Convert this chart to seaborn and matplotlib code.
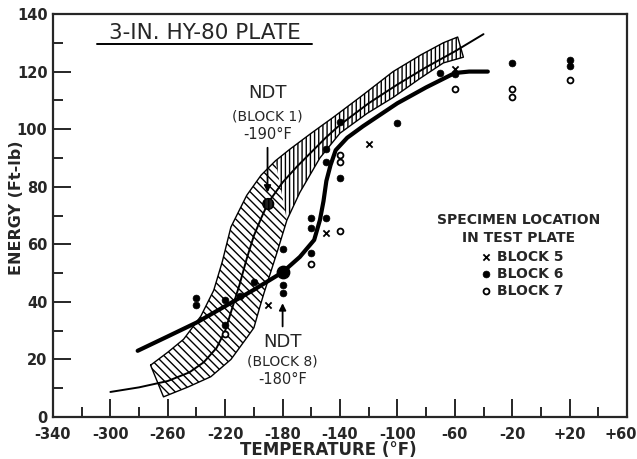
import matplotlib
matplotlib.use("Agg")
import matplotlib.pyplot as plt
import matplotlib.transforms as mtransforms
import seaborn as sns
from matplotlib.ticker import FixedLocator, MultipleLocator
from matplotlib.lines import Line2D

# ---------------- data ----------------
block5_T = [-190, -150, -120, -60]
block5_E = [39, 64, 95, 121]

block6_T = [-240, -240, -220, -220, -210, -200, -180, -180, -180, -160, -160, -160,
            -150, -150, -150, -140, -140, -100, -70, -60, -20, 20, 20]
block6_E = [39, 41.5, 40.5, 32, 42, 47, 58.5, 46, 43, 69, 65.5, 57,
            69, 93, 88.5, 83, 102.5, 102, 119.5, 119, 123, 124, 122]

block7_T = [-220, -160, -140, -140, -140, -60, -20, -20, 20]
block7_E = [29, 53, 64.5, 88.5, 91, 114, 114, 111, 117]

ndt_T = [-190, -180]
ndt_E = [74, 50.3]

thin_T = [-300, -280, -260, -245, -235, -226, -220, -215, -210, -205, -200, -195,
          -190, -180, -170, -160, -150, -140, -120, -100, -80, -60, -40]
thin_E = [8.7, 10.3, 12.5, 15.5, 19, 24, 30, 38, 46, 55, 63, 69,
          74.5, 81.5, 87, 92, 97, 101.5, 109, 115.5, 121.5, 127, 133]

thick_T = [-281, -260, -240, -220, -200, -180, -168, -158, -154, -151.5, -149.5,
           -146.6, -143, -135, -124, -100, -80, -60, -50, -37]
thick_E = [23, 28, 32.8, 38.5, 44.2, 50.3, 55.6, 61.5, 68.4, 75, 82,
           87.5, 92.7, 97, 101, 109, 114.5, 119.5, 120, 120]

band_up_T = [-272, -260, -249, -237, -228, -222, -216, -205, -195, -185, -175, -160,
             -145, -125, -103, -84, -68, -58]
band_up_E = [18, 22.5, 27, 35, 44, 54, 66, 77, 84, 89, 93, 98.6,
             104, 111.5, 120, 125.7, 130, 132]
band_lo_T = [-263, -246, -230, -216, -205, -200, -196, -193, -184, -177, -168, -154,
             -140, -121, -103, -84, -68, -54]
band_lo_E = [7, 10.4, 14, 20, 27.5, 31, 38, 43, 57, 68.4, 78, 90,
             98.6, 105.5, 111, 117.7, 123, 125]

x_ticks = [-340, -300, -260, -220, -180, -140, -100, -60, -20, 20, 60]
x_labels = ["-340", "-300", "-260", "-220", "-180", "-140", "-100", "-60", "-20", "+20", "+60"]
y_ticks = [0, 20, 40, 60, 80, 100, 120, 140]
y_labels = ["0", "20", "40", "60", "80", "100", "120", "140"]

# ---------------- figure ----------------
sns.set_style("ticks")
plt.rcParams["font.family"] = ["DejaVu Sans"]
plt.rcParams["hatch.linewidth"] = 1.0

fig = plt.figure(figsize=(6.37, 4.59), dpi=100)
ax = fig.add_axes([53 / 637, 1 - 417 / 459, 574 / 637, 403 / 459])

# hatched scatter band (two sections with different hatching)
split = 9
low_x = band_up_T[:split + 1] + band_lo_T[:split + 1][::-1]
low_y = band_up_E[:split + 1] + band_lo_E[:split + 1][::-1]
up_x = band_up_T[split:] + band_lo_T[split:][::-1]
up_y = band_up_E[split:] + band_lo_E[split:][::-1]
ax.fill(low_x, low_y, facecolor="none", edgecolor="black", hatch="\\\\\\\\", linewidth=0)
ax.fill(up_x, up_y, facecolor="none", edgecolor="black", hatch="||||", linewidth=0)
outline_x = band_up_T + band_lo_T[::-1] + [band_up_T[0]]
outline_y = band_up_E + band_lo_E[::-1] + [band_up_E[0]]
ax.plot(outline_x, outline_y, color="black", lw=1.0)

# curves
sns.lineplot(x=thin_T, y=thin_E, color="black", lw=1.4, ax=ax, sort=False)
sns.lineplot(x=thick_T, y=thick_E, color="black", lw=3.0, ax=ax, sort=False)

# specimen points
sns.scatterplot(x=block5_T, y=block5_E, marker="x", color="black", s=20,
                linewidth=1.3, ax=ax, label="BLOCK 5", zorder=5)
sns.scatterplot(x=block6_T, y=block6_E, marker="o", color="black", s=24,
                edgecolor="black", linewidth=0.5, ax=ax, label="BLOCK 6", zorder=5)
sns.scatterplot(x=block7_T, y=block7_E, marker="o", facecolor="white", s=18,
                edgecolor="black", linewidth=1.3, ax=ax, label="BLOCK 7", zorder=5)

# NDT points
ax.scatter(ndt_T[:1], ndt_E[:1], s=60, facecolor="#222222", edgecolor="black",
           linewidth=1, hatch="||||", zorder=6)
ax.scatter(ndt_T[1:], ndt_E[1:], s=80, color="black", zorder=6)

# annotations
ax.text(-190.6, 112.7, "NDT", ha="center", va="center", fontsize=13)
ax.text(-190.6, 104.5, "(BLOCK 1)", ha="center", va="center", fontsize=10)
ax.text(-190.6, 98.3, "-190°F", ha="center", va="center", fontsize=10.5)
ax.annotate("", xy=(-190.5, 77), xytext=(-190.5, 94.5),
            arrowprops=dict(arrowstyle="-|>", color="black", lw=1.3, mutation_scale=10))

ax.text(-180, 26.2, "NDT", ha="center", va="center", fontsize=13)
ax.text(-180, 19.4, "(BLOCK 8)", ha="center", va="center", fontsize=10)
ax.text(-180, 13.2, "-180°F", ha="center", va="center", fontsize=10.5)
ax.annotate("", xy=(-180, 40.5), xytext=(-180, 30.5),
            arrowprops=dict(arrowstyle="-|>", color="black", lw=1.3, mutation_scale=10))

ax.text(-15.7, 68.4, "SPECIMEN LOCATION", ha="center", va="center", fontsize=10,
        fontweight="bold")
ax.text(-15.4, 62.2, "IN TEST PLATE", ha="center", va="center", fontsize=10,
        fontweight="bold")

# title with underline
ax.text(0.264, 0.953, "3-IN. HY-80 PLATE", transform=ax.transAxes,
        ha="center", va="center", fontsize=15.5)
ax.add_line(Line2D([0.0767, 0.451], [0.926, 0.926], transform=ax.transAxes,
                   color="black", lw=1.4))

# legend (block markers)
leg = ax.legend(loc="upper left", bbox_to_anchor=(0.745, 0.415), frameon=False,
                borderaxespad=0, borderpad=0, handlelength=0.8, handletextpad=0.35,
                labelspacing=0.22, prop={"size": 10, "weight": "bold"})

# axes
ax.set_xlim(-340, 60)
ax.set_ylim(0, 140)
ax.xaxis.set_major_locator(FixedLocator(x_ticks))
ax.set_xticklabels(x_labels, fontsize=10.5, fontweight="bold")
ax.xaxis.set_minor_locator(MultipleLocator(20))
ax.yaxis.set_major_locator(FixedLocator(y_ticks))
ax.set_yticklabels(y_labels, fontsize=10.5, fontweight="bold")
ax.yaxis.set_minor_locator(MultipleLocator(10))
ax.tick_params(which="major", direction="in", length=13, width=1.4,
               top=False, right=False)
ax.tick_params(axis="x", which="major", pad=7)
ax.tick_params(axis="y", which="major", pad=4)
ax.tick_params(which="minor", direction="in", length=7, width=1.4, top=False, right=False)
# keep the last x label inside the figure (as in the reference)
last = ax.get_xticklabels()[-1]
last.set_horizontalalignment("right")
last.set_transform(last.get_transform() + mtransforms.ScaledTranslation(0.1, 0, fig.dpi_scale_trans))
for s in ax.spines.values():
    s.set_linewidth(1.6)
    s.set_visible(True)
ax.set_xlabel("TEMPERATURE (°F)", fontsize=12, fontweight="bold")
ax.set_ylabel("ENERGY (Ft-lb)", fontsize=11.5, fontweight="bold")
ax.xaxis.set_label_coords(0.479, -0.082)
ax.xaxis.label.set_verticalalignment("center")
ax.yaxis.set_label_coords(-0.064, 0.52)
ax.yaxis.label.set_verticalalignment("center")

fig.savefig("out.png", dpi=100)
